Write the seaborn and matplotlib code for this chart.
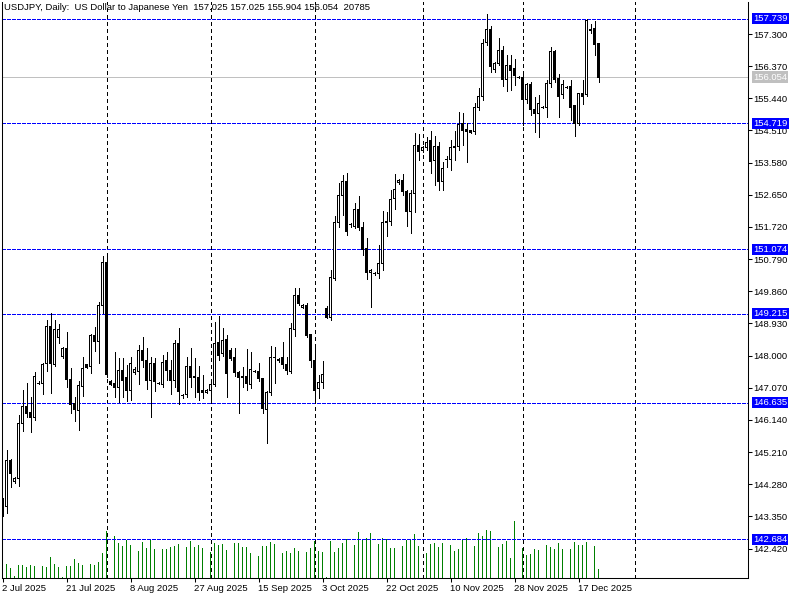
import numpy as np
import pandas as pd
import matplotlib
matplotlib.use("Agg")
import matplotlib.pyplot as plt
import seaborn as sns

sns.set_theme(style="white")
plt.rcParams['font.family'] = ['Liberation Sans', 'DejaVu Sans']

# ---------------- data ----------------
title_text = "USDJPY, Daily:  US Dollar to Japanese Yen  157.025 157.025 155.904 156.054  20785"
first_date = "2025-07-02"
last_date = "2025-12-23"

open_ = [
    143.680, 143.622, 144.952, 144.373, 144.460, 146.022, 146.542, 146.340, 146.224, 147.207,
    147.207, 147.765, 148.847, 147.748, 148.529, 147.968, 148.191, 147.315, 146.620, 146.406,
    147.100, 147.728, 147.679, 148.567, 148.402, 149.454, 150.698, 147.256, 147.198, 147.071,
    147.583, 147.361, 147.005, 147.505, 147.554, 148.133, 147.872, 147.274, 147.777, 147.198,
    147.170, 147.844, 147.583, 147.294, 148.356, 146.832, 146.881, 147.679, 147.381, 147.372,
    146.985, 146.939, 146.985, 147.170, 148.393, 148.066, 148.451, 148.133, 147.959, 147.525,
    147.381, 147.381, 147.150, 147.554, 147.554, 147.352, 146.447, 146.939, 147.951, 147.844,
    147.939, 147.728, 147.534, 148.760, 149.752, 149.396, 149.463, 148.596, 147.852, 147.034,
    147.228, 149.368, 149.096, 150.235, 151.843, 152.624, 153.040, 151.777, 151.727, 152.231,
    151.710, 151.103, 150.397, 150.380, 150.380, 150.669, 151.843, 151.872, 152.549, 153.000,
    153.058, 152.751, 152.161, 152.693, 154.081, 153.937, 154.012, 154.206, 153.656, 154.061,
    153.029, 153.685, 153.676, 154.023, 154.041, 154.718, 154.524, 154.504, 154.475, 155.169,
    155.507, 157.048, 157.436, 156.279, 156.453, 156.837, 155.990, 156.395, 156.288, 156.048,
    156.048, 155.420, 155.845, 155.122, 155.007, 155.180, 155.180, 155.874, 156.788, 156.019,
    155.536, 155.758, 155.796, 155.218, 154.718, 155.585, 155.536, 157.436, 157.465, 157.025,
]
high = [
    143.882, 145.270, 145.019, 144.489, 146.282, 147.005, 147.207, 146.811, 147.525, 147.265,
    147.794, 149.029, 149.223, 149.029, 148.914, 148.240, 148.691, 147.641, 146.811, 147.265,
    147.951, 147.757, 148.616, 148.835, 149.541, 150.880, 150.958, 147.280, 148.095, 147.922,
    147.922, 147.728, 147.951, 147.670, 148.306, 148.538, 148.211, 147.968, 147.922, 147.222,
    148.017, 148.113, 147.872, 148.451, 148.789, 146.890, 147.951, 148.211, 147.922, 147.699,
    147.439, 147.034, 147.315, 148.980, 149.145, 148.789, 148.596, 148.220, 148.228, 147.554,
    147.679, 148.191, 148.113, 147.583, 147.795, 147.366, 146.962, 148.278, 148.257, 147.930,
    148.384, 147.951, 148.951, 149.946, 149.946, 149.492, 149.530, 148.596, 148.306, 147.439,
    147.852, 149.443, 150.475, 152.045, 152.982, 153.223, 153.272, 151.834, 152.404, 152.615,
    151.872, 151.392, 150.490, 150.417, 151.198, 152.181, 152.161, 152.789, 153.251, 153.107,
    153.251, 152.789, 152.789, 154.428, 154.408, 154.061, 154.330, 154.503, 154.350, 154.185,
    153.607, 153.772, 154.235, 154.495, 155.053, 155.007, 154.718, 154.538, 155.296, 155.730,
    157.146, 157.878, 157.531, 156.499, 157.175, 156.953, 156.693, 156.693, 156.568, 156.071,
    156.210, 155.874, 155.920, 155.487, 155.536, 155.218, 155.970, 156.933, 156.837, 156.143,
    155.970, 155.796, 155.970, 155.218, 155.594, 155.970, 157.734, 157.589, 157.684, 157.025,
]
low = [
    143.361, 143.448, 144.209, 144.315, 144.238, 145.828, 146.224, 145.790, 146.137, 147.178,
    146.881, 147.563, 146.927, 147.699, 148.373, 147.922, 147.083, 146.331, 146.117, 145.848,
    146.832, 147.641, 147.505, 148.141, 147.795, 149.223, 147.381, 147.164, 146.811, 146.649,
    146.811, 146.696, 146.716, 147.468, 147.170, 147.662, 147.025, 146.233, 146.985, 147.178,
    147.100, 147.294, 146.890, 147.100, 146.600, 146.774, 146.811, 147.100, 146.811, 146.716,
    146.765, 146.919, 146.649, 147.121, 147.872, 147.988, 146.811, 147.872, 147.410, 146.340,
    147.100, 147.005, 147.063, 147.525, 147.265, 146.331, 145.481, 146.861, 147.198, 147.815,
    147.641, 147.468, 147.505, 148.567, 149.463, 149.376, 148.538, 147.662, 146.620, 146.765,
    147.054, 149.079, 149.029, 150.186, 151.727, 152.066, 151.487, 151.719, 151.681, 151.632,
    150.909, 150.206, 149.396, 150.331, 150.252, 150.475, 151.467, 151.777, 152.231, 152.962,
    152.644, 151.748, 151.537, 152.161, 153.656, 153.902, 153.945, 153.289, 152.933, 152.789,
    152.789, 153.462, 153.367, 153.656, 153.945, 154.090, 153.607, 154.437, 154.408, 155.102,
    155.391, 156.982, 156.210, 156.210, 156.403, 155.796, 155.660, 155.681, 155.825, 156.027,
    154.668, 155.296, 154.957, 154.475, 154.330, 155.146, 154.891, 155.776, 155.912, 154.908,
    155.449, 155.724, 154.813, 154.359, 154.668, 155.276, 155.507, 157.338, 156.693, 155.904,
]
close = [
    143.448, 144.952, 144.576, 144.460, 146.022, 146.542, 146.311, 146.224, 147.381, 147.207,
    147.728, 148.847, 147.765, 148.769, 148.761, 148.191, 147.315, 146.600, 146.447, 147.121,
    147.641, 147.650, 148.567, 148.402, 149.454, 150.698, 147.448, 147.178, 147.071, 147.583,
    147.294, 147.005, 147.777, 147.603, 148.133, 147.852, 147.274, 147.777, 147.256, 147.193,
    147.795, 147.563, 147.274, 148.356, 146.956, 146.832, 147.679, 147.372, 147.366, 146.939,
    146.939, 147.005, 147.170, 148.356, 148.017, 148.431, 147.468, 147.930, 147.505, 147.361,
    147.372, 147.198, 147.612, 147.554, 147.343, 146.476, 146.939, 147.951, 147.959, 147.901,
    147.728, 147.563, 148.789, 149.752, 149.512, 149.463, 148.575, 147.852, 147.005, 147.228,
    147.459, 149.096, 150.264, 151.863, 152.635, 153.040, 151.583, 151.777, 152.231, 151.698,
    151.054, 150.397, 150.475, 150.380, 150.669, 151.863, 151.892, 152.520, 152.809, 153.069,
    152.739, 152.173, 152.693, 154.081, 153.896, 154.023, 154.168, 153.607, 154.061, 153.029,
    153.416, 153.685, 154.023, 154.061, 154.697, 154.495, 154.475, 154.457, 155.180, 155.487,
    157.031, 157.436, 156.354, 156.453, 156.837, 155.990, 156.375, 156.239, 156.114, 156.048,
    155.412, 155.845, 155.122, 155.007, 155.296, 155.180, 155.874, 156.788, 155.990, 155.487,
    155.854, 155.758, 155.180, 154.718, 155.585, 155.507, 157.676, 157.387, 157.002, 156.054,
]
volume = [
    27600, 32200, 23000, 3900, 29900, 29900, 26000, 29900, 28300, 600,
    27600, 25300, 49000, 32200, 25300, 1200, 27600, 27600, 43700, 34500,
    29900, 700, 32200, 29900, 36800, 57500, 108800, 800, 97300, 80500,
    74300, 88100, 76600, 700, 62800, 83500, 69700, 89700, 66700, 600,
    66700, 66700, 72000, 74300, 78900, 700, 72000, 85800, 72000, 76600,
    69700, 600, 60500, 81200, 76600, 78900, 64400, 900, 81200, 81200,
    72000, 72000, 58200, 600, 51300, 74300, 74300, 83500, 78900, 600,
    58200, 62100, 58200, 69700, 62100, 600, 60500, 69700, 85800, 62100,
    60500, 1500, 85800, 60500, 69700, 80500, 90400, 700, 76600, 106500,
    88100, 92700, 104200, 700, 78900, 92700, 90400, 69700, 69700, 700,
    74300, 88100, 90400, 101900, 74300, 700, 58200, 78900, 81200, 72000,
    81200, 700, 76600, 62800, 67400, 88100, 92700, 700, 74300, 104200,
    97300, 111100, 108800, 700, 72000, 78900, 85800, 46700, 131800, 700,
    69700, 53600, 55900, 67400, 65100, 700, 76600, 72000, 67400, 81200,
    67400, 700, 67400, 83500, 76600, 76600, 83500, 700, 74300, 20785,
]

level_lines = [157.739, 154.719, 151.074, 149.215, 146.635, 142.684]
bid_price = 156.054
price_ticks = [157.300, 156.370, 155.440, 154.510, 153.580, 152.650, 151.720, 150.790,
               149.860, 148.930, 148.000, 147.070, 146.140, 145.210, 144.280, 143.350, 142.420]
date_tick_dates = ["2025-07-02", "2025-07-21", "2025-08-08", "2025-08-27", "2025-09-15",
                   "2025-10-03", "2025-10-22", "2025-11-10", "2025-11-28", "2025-12-17"]
date_tick_labels = ["2 Jul 2025", "21 Jul 2025", "8 Aug 2025", "27 Aug 2025", "15 Sep 2025",
                    "3 Oct 2025", "22 Oct 2025", "10 Nov 2025", "28 Nov 2025", "17 Dec 2025"]
future_month_start = "2026-01-01"

# ---------------- layout ----------------
W, H = 800, 600
left_px, right_px, top_px, bottom_px = 2, 748, 2, 578
px_per_bar = 4
price_at_px34 = 157.300
px_per_price = 34.58
vol_per_px = 2300
one_px = 1.0 / px_per_price

dates = pd.DatetimeIndex([d for d in pd.date_range(first_date, last_date) if d.weekday() != 5])
n = len(dates)
idx = np.arange(n)
o = np.array(open_); h = np.array(high); l = np.array(low); c = np.array(close)

fig = plt.figure(figsize=(W / 100, H / 100), dpi=100)
fig.patch.set_facecolor("white")
rect = [left_px / W, (H - bottom_px) / H, (right_px - left_px) / W, (bottom_px - top_px) / H]

x0 = -0.125
x1 = x0 + (right_px - left_px) / px_per_bar
y_bot = price_at_px34 - (bottom_px - 34) / px_per_price
y_top = price_at_px34 + (34 - top_px) / px_per_price

# volume (behind)
axv = fig.add_axes(rect, zorder=1)
vol_df = pd.DataFrame({"bar": idx, "volume": volume})
sns.barplot(data=vol_df, x="bar", y="volume", native_scale=True, width=0.25,
            color="#008000", saturation=1, errorbar=None, linewidth=0, ax=axv)
for p in axv.patches:
    p.set_antialiased(False)
axv.set_xlim(x0, x1)
axv.set_ylim(0, (bottom_px - top_px) * vol_per_px)
axv.axis("off")

# price
ax = fig.add_axes(rect, zorder=2)
ax.patch.set_visible(False)
ax.set_xlim(x0, x1)
ax.set_ylim(y_bot, y_top)

# month grid
months = dates.to_period("M")
month_starts = [i for i in range(1, n) if months[i] != months[i - 1]]
month_starts.append(n - 1 + (pd.Timestamp(future_month_start) - dates[-1]).days)
for m in month_starts:
    ax.axvline(m, color="black", lw=0.72, dashes=(3, 3), zorder=1, antialiased=False)

for lvl in level_lines:
    ax.axhline(lvl, color="#0000FF", lw=0.72, dashes=(3, 2), zorder=1, antialiased=False)
ax.axhline(bid_price, color="#C0C0C0", lw=0.72, zorder=1, antialiased=False)

# candles
up = c > o
ax.vlines(idx, l, h, color="black", lw=0.72, zorder=3, antialiased=False)
bb = np.minimum(o, c)
bh = np.abs(c - o)
ax.bar(idx, bh + one_px, bottom=bb - 0.5 * one_px, width=0.75, color="black",
       linewidth=0, zorder=4, antialiased=False)
inner = up & (bh > 1.5 * one_px)
ax.bar(idx[inner], bh[inner] - one_px, bottom=bb[inner] + 0.5 * one_px, width=0.25,
       color="white", linewidth=0, zorder=5, antialiased=False)

# axes styling
for s in ["left", "bottom", "right"]:
    ax.spines[s].set_visible(True)
    ax.spines[s].set_color("black")
    ax.spines[s].set_linewidth(0.75)
ax.spines["top"].set_visible(False)

ax.set_yticks(price_ticks)
ax.set_yticklabels([f"{t:.3f}" for t in price_ticks])
ax.tick_params(axis="y", left=False, right=True, labelleft=False, labelright=True,
               direction="out", length=3, width=0.75, pad=1, labelsize=6.8, colors="black")

tick_pos = [dates.get_loc(pd.Timestamp(d)) for d in date_tick_dates]
ax.set_xticks(tick_pos)
ax.set_xticklabels(date_tick_labels)
ax.tick_params(axis="x", bottom=True, direction="out", length=3, width=0.75, pad=1.5,
               labelsize=6.8, colors="black")
for lbl in ax.get_xticklabels():
    lbl.set_ha("left")
ax.grid(False)

# price level boxes
tr = ax.get_yaxis_transform()
label_x = 1 + 5 / (right_px - left_px)
for lvl in level_lines:
    ax.text(label_x, lvl, f"{lvl:.3f}", transform=tr, color="white", fontsize=6.8,
            va="center", ha="left", zorder=10, clip_on=False,
            bbox=dict(boxstyle="square,pad=0.12", fc="#0000FF", ec="none"))
ax.text(label_x, bid_price, f"{bid_price:.3f}", transform=tr, color="white", fontsize=6.8,
        va="center", ha="left", zorder=10, clip_on=False,
        bbox=dict(boxstyle="square,pad=0.12", fc="#C0C0C0", ec="none"))

fig.text(4 / W, 1 - 7.5 / H, title_text, fontsize=6.8, ha="left", va="center", color="black")

fig.savefig("out.png", dpi=100, facecolor="white")
